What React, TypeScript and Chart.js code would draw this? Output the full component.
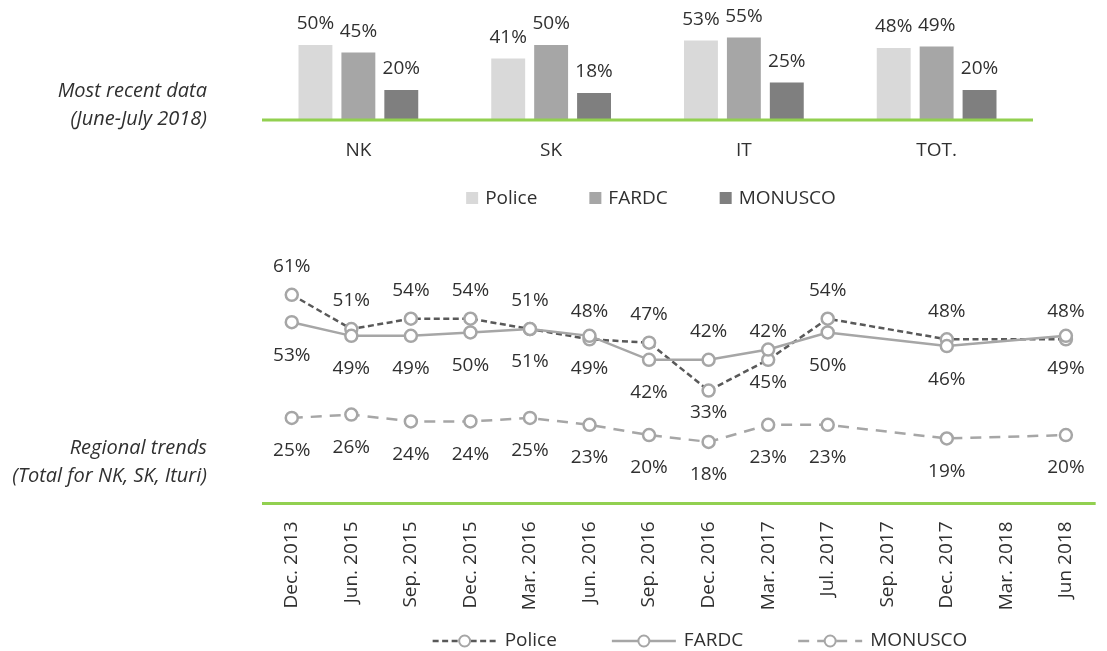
import React, { useEffect, useRef } from "react";
import { Chart, registerables } from "chart.js";

Chart.register(...registerables);

// ---------- data ----------
const regions = ["NK", "SK", "IT", "TOT."];
const recentPolice = [50, 41, 53, 48];
const recentFardc = [45, 50, 55, 49];
const recentMonusco = [20, 18, 25, 20];

const periods = [
  "Dec. 2013", "Jun. 2015", "Sep. 2015", "Dec. 2015", "Mar. 2016", "Jun. 2016", "Sep. 2016",
  "Dec. 2016", "Mar. 2017", "Jul. 2017", "Sep. 2017", "Dec. 2017", "Mar. 2018", "Jun 2018",
];
const trendPolice = [61, 51, 54, 54, 51, 48, 47, 33, 42, 54, null, 48, null, 48];
const trendFardc = [53, 49, 49, 50, 51, 49, 42, 42, 45, 50, null, 46, null, 49];
const trendMonusco = [25, 26, 24, 24, 25, 23, 20, 18, 23, 23, null, 19, null, 20];

// label side per point: a = above, b = below, c = close below
const policeSide = ["a", "a", "a", "a", "a", "a", "a", "c", "a", "a", "a", "a", "a", "a"];
const fardcSide = ["b", "b", "b", "b", "b", "b", "b", "a", "b", "b", "b", "b", "b", "b"];
const monuscoSide = ["b", "b", "b", "b", "b", "b", "b", "b", "b", "b", "b", "b", "b", "b"];

// ---------- styles ----------
const FONT = "'Open Sans', 'Noto Sans', sans-serif";
const TEXT = "#303030";
const GREEN = "#92d050";
const C_LIGHT = "#d9d9d9";
const C_MID = "#a6a6a6";
const C_DARK = "#7f7f7f";
const C_LINE_DARK = "#595959";
const FS = 19;
const W = 1107;
const H = 651;
const SIDE_OFFSET: Record<string, number> = { a: -28, b: 33, c: 22 };

const topPlugin = {
  id: "topDecor",
  afterDatasetsDraw(chart: any) {
    const { ctx, chartArea } = chart;
    const y0 = chart.scales.y.getPixelForValue(0);
    ctx.save();
    ctx.strokeStyle = GREEN;
    ctx.lineWidth = 3;
    ctx.beginPath();
    ctx.moveTo(chartArea.left, y0);
    ctx.lineTo(chartArea.right, y0);
    ctx.stroke();
    ctx.font = `${FS}px ${FONT}`;
    ctx.fillStyle = TEXT;
    ctx.textAlign = "center";
    ctx.textBaseline = "middle";
    chart.data.datasets.forEach((ds: any, di: number) => {
      const meta = chart.getDatasetMeta(di);
      meta.data.forEach((el: any, i: number) => {
        ctx.fillText(ds.data[i] + "%", el.x, el.y - 21);
      });
    });
    // legend
    const items = chart.data.datasets.map((ds: any) => ({ label: ds.label, color: ds.backgroundColor }));
    const box = 12, gap = 7, itemGap = 52;
    const widths = items.map((it: any) => box + gap + ctx.measureText(it.label).width);
    const total = widths.reduce((a: number, b: number) => a + b, 0) + itemGap * (items.length - 1);
    let x = 651 - total / 2;
    const ly = 198;
    ctx.textAlign = "left";
    items.forEach((it: any, i: number) => {
      ctx.fillStyle = it.color;
      ctx.fillRect(x, ly - box / 2, box, box);
      ctx.fillStyle = TEXT;
      ctx.fillText(it.label, x + box + gap, ly + 1);
      x += widths[i] + itemGap;
    });
    ctx.restore();
  },
};

const bottomPlugin = {
  id: "bottomDecor",
  beforeDatasetsDraw(chart: any) {
    const { ctx, chartArea } = chart;
    const y0 = chart.scales.y.getPixelForValue(0);
    ctx.save();
    ctx.strokeStyle = GREEN;
    ctx.lineWidth = 3;
    ctx.beginPath();
    ctx.moveTo(chartArea.left, y0);
    ctx.lineTo(chartArea.right, y0);
    ctx.stroke();
    ctx.restore();
  },
  afterDatasetsDraw(chart: any) {
    const { ctx } = chart;
    ctx.save();
    ctx.font = `${FS}px ${FONT}`;
    ctx.fillStyle = TEXT;
    ctx.textAlign = "center";
    ctx.textBaseline = "middle";
    chart.data.datasets.forEach((ds: any, di: number) => {
      const meta = chart.getDatasetMeta(di);
      meta.data.forEach((el: any, i: number) => {
        const v = ds.data[i];
        if (v === null || v === undefined) return;
        ctx.fillText(v + "%", el.x, el.y + SIDE_OFFSET[ds.labelSide[i]]);
      });
    });
    // legend
    const items = chart.data.datasets.map((ds: any) => ({
      label: ds.label,
      color: ds.borderColor,
      dash: ds.borderDash || [],
    }));
    const sample = 64, gap = 8, itemGap = 55;
    const widths = items.map((it: any) => sample + gap + ctx.measureText(it.label).width);
    const total = widths.reduce((a: number, b: number) => a + b, 0) + itemGap * (items.length - 1);
    let x = 700 - total / 2;
    const ly = 641;
    ctx.textAlign = "left";
    items.forEach((it: any, i: number) => {
      ctx.beginPath();
      ctx.setLineDash(it.dash);
      ctx.strokeStyle = it.color;
      ctx.lineWidth = 2.5;
      ctx.moveTo(x, ly);
      ctx.lineTo(x + sample, ly);
      ctx.stroke();
      ctx.setLineDash([]);
      ctx.beginPath();
      ctx.arc(x + sample / 2, ly, 5.5, 0, Math.PI * 2);
      ctx.fillStyle = "#ffffff";
      ctx.fill();
      ctx.strokeStyle = C_MID;
      ctx.lineWidth = 2;
      ctx.stroke();
      ctx.fillStyle = TEXT;
      ctx.fillText(it.label, x + sample + gap, ly);
      x += widths[i] + itemGap;
    });
    ctx.restore();
  },
};

export default function App() {
  const topRef = useRef<HTMLCanvasElement>(null);
  const botRef = useRef<HTMLCanvasElement>(null);

  useEffect(() => {
    const common = {
      responsive: false,
      animation: false as const,
      devicePixelRatio: 1,
      events: [] as any[],
      plugins: { legend: { display: false }, tooltip: { enabled: false } },
    };

    const top = new Chart(topRef.current!, {
      type: "bar",
      data: {
        labels: regions,
        datasets: [
          { label: "Police", data: recentPolice, backgroundColor: C_LIGHT },
          { label: "FARDC", data: recentFardc, backgroundColor: C_MID },
          { label: "MONUSCO", data: recentMonusco, backgroundColor: C_DARK },
        ],
      },
      options: {
        ...common,
        layout: { padding: { left: 262, right: W - 1033, top: 30, bottom: 0 } },
        datasets: { bar: { categoryPercentage: 0.668, barPercentage: 0.79, borderWidth: 0 } },
        scales: {
          x: {
            grid: { display: false, drawTicks: false },
            border: { display: false },
            ticks: { font: { family: FONT, size: FS }, color: TEXT, padding: 19 },
            afterFit: (s: any) => { s.height = H - 120; },
          },
          y: { display: false, min: 0, max: 60 },
        },
      } as any,
      plugins: [topPlugin],
    });

    const pointStyle = {
      pointRadius: 6,
      pointBorderWidth: 2.5,
      pointBorderColor: C_MID,
      pointBackgroundColor: "#ffffff",
    };

    const bottom = new Chart(botRef.current!, {
      type: "line",
      data: {
        labels: periods,
        datasets: [
          {
            label: "Police", data: trendPolice, labelSide: policeSide, ...pointStyle,
            borderColor: C_LINE_DARK, borderDash: [6, 3.5], borderWidth: 2.5, order: 3,
          },
          {
            label: "FARDC", data: trendFardc, labelSide: fardcSide, ...pointStyle,
            borderColor: C_MID, borderWidth: 2.5, order: 2,
          },
          {
            label: "MONUSCO", data: trendMonusco, labelSide: monuscoSide, ...pointStyle,
            borderColor: C_MID, borderDash: [11, 8], borderWidth: 2.5, order: 1,
          },
        ] as any,
      },
      options: {
        ...common,
        spanGaps: true,
        layout: { padding: { left: 262, right: 0, top: 264, bottom: 0 } },
        elements: { line: { tension: 0, fill: false } },
        scales: {
          x: {
            offset: true,
            grid: { display: false, drawTicks: false },
            border: { display: false },
            ticks: {
              font: { family: FONT, size: FS }, color: TEXT, padding: 18,
              minRotation: 90, maxRotation: 90, autoSkip: false,
            },
            afterFit: (s: any) => { s.height = H - 503.5; },
          },
          y: { display: false, min: 0, max: 70 },
        },
      } as any,
      plugins: [bottomPlugin],
    });

    return () => { top.destroy(); bottom.destroy(); };
  }, []);

  const sideText: React.CSSProperties = {
    position: "absolute", left: 0, width: 207, textAlign: "right",
    fontFamily: FONT, fontStyle: "italic", fontSize: 20, lineHeight: "28px", color: TEXT,
  };

  return (
    <div style={{ position: "fixed", left: 0, top: 0, width: W, height: H, background: "#fff", overflow: "hidden" }}>
      <canvas ref={topRef} width={W} height={H} style={{ position: "absolute", left: 0, top: 0 }} />
      <canvas ref={botRef} width={W} height={H} style={{ position: "absolute", left: 0, top: 0 }} />
      <div style={{ ...sideText, top: 76 }}>Most recent data<br />(June-July 2018)</div>
      <div style={{ ...sideText, top: 433 }}>Regional trends<br />(Total for NK, SK, Ituri)</div>
    </div>
  );
}
